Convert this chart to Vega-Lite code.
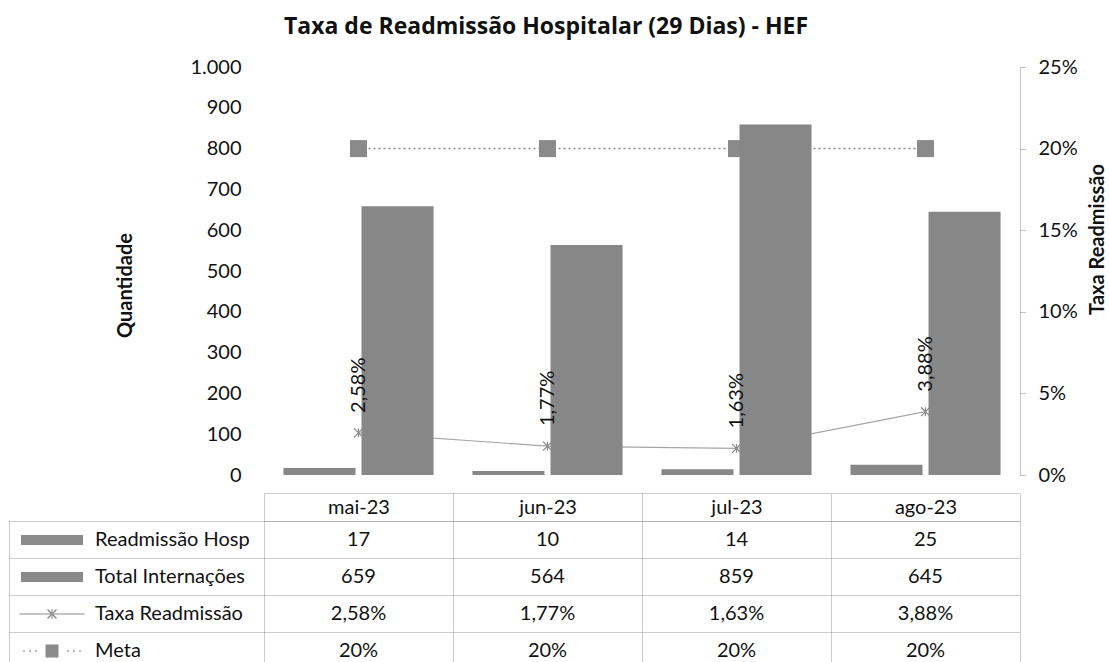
{
  "$schema": "https://vega.github.io/schema/vega-lite/v6.json",
  "padding": {"left": 8, "top": 16, "right": 5, "bottom": 0},
  "background": "white",
  "config": {
    "font": "Lato",
    "view": {"stroke": null},
    "locale": {"number": {"decimal": ",", "thousands": ".", "grouping": [3], "currency": ["R$", ""]}},
    "axis": {"labelFont": "Lato", "titleFont": "Lato", "labelColor": "#111", "titleColor": "#111"}
  },
  "datasets": {
    "dados": [
      {"mes": "mai-23", "readm": 17, "total": 659, "taxa": 0.0258, "meta": 0.2},
      {"mes": "jun-23", "readm": 10, "total": 564, "taxa": 0.0177, "meta": 0.2},
      {"mes": "jul-23", "readm": 14, "total": 859, "taxa": 0.0163, "meta": 0.2},
      {"mes": "ago-23", "readm": 25, "total": 645, "taxa": 0.0388, "meta": 0.2}
    ],
    "series": [
      {"serie": "Readmissão Hosp"},
      {"serie": "Total Internações"},
      {"serie": "Taxa Readmissão"},
      {"serie": "Meta"}
    ]
  },
  "bounds": "flush",
  "spacing": 46,
  "vconcat": [
    {
      "width": 756,
      "height": 408,
      "title": {"text": "Taxa de Readmissão Hospitalar (29 Dias) - HEF", "fontSize": 23, "fontWeight": "bold", "font": "Open Sans", "color": "#111", "anchor": "middle", "dx": -96, "offset": 18},
      "data": {"name": "dados"},
      "encoding": {
        "x": {"field": "mes", "type": "nominal", "sort": null, "axis": null, "scale": {"type": "band", "paddingInner": 0.206, "paddingOuter": 0.103}}
      },
      "layer": [
        {
          "mark": {"type": "line", "color": "#8a8a8a", "strokeWidth": 1.5, "strokeDash": [2, 3]},
          "encoding": {
            "y": {"field": "meta", "type": "quantitative", "scale": {"domain": [0, 0.25]},
              "axis": {"orient": "right", "values": [0, 0.05, 0.1, 0.15, 0.2, 0.25], "format": ".0%", "title": "Taxa Readmissão", "titleFontSize": 20, "titleFontWeight": "bold", "titleAngle": 270, "titleX": 77, "titleY": 172, "titleBaseline": "middle", "titleAlign": "center", "labelFontSize": 20, "labelPadding": 12, "tickSize": 6, "tickColor": "#888", "tickDash": [1, 1], "domainColor": "#888", "domainDash": [1, 1], "grid": false}}
          }
        },
        {
          "mark": {"type": "point", "shape": "square", "filled": true, "size": 290, "color": "#8a8a8a", "opacity": 1},
          "encoding": {"y": {"field": "meta", "type": "quantitative", "scale": {"domain": [0, 0.25]}, "axis": null}}
        },
        {
          "mark": {"type": "line", "color": "#a6a6a6", "strokeWidth": 1.2},
          "encoding": {"y": {"field": "taxa", "type": "quantitative", "scale": {"domain": [0, 0.25]}, "axis": null}}
        },
        {
          "mark": {"type": "point", "shape": "M-1,-1L1,1M-1,1L1,-1M0,-1L0,1", "filled": false, "size": 80, "color": "#888", "strokeWidth": 1.2, "opacity": 1},
          "encoding": {"y": {"field": "taxa", "type": "quantitative", "scale": {"domain": [0, 0.25]}, "axis": null}}
        },
        {
          "transform": [{"fold": ["readm", "total"], "as": ["serie", "valor"]}],
          "mark": {"type": "bar", "color": "#878787"},
          "encoding": {
            "xOffset": {"field": "serie", "type": "nominal", "scale": {"paddingInner": 0.077}},
            "y": {"field": "valor", "type": "quantitative", "scale": {"domain": [0, 1000]},
              "axis": {"orient": "left", "values": [0, 100, 200, 300, 400, 500, 600, 700, 800, 900, 1000], "format": ",d", "title": "Quantidade", "titleFontSize": 20, "titleFontWeight": "bold", "titleAngle": 270, "titleX": -139, "titleY": 218, "titleBaseline": "middle", "titleAlign": "center", "labelFontSize": 20, "labelPadding": 23, "ticks": false, "domain": false, "grid": false}}
          }
        },
        {
          "mark": {"type": "text", "angle": 270, "align": "left", "baseline": "middle", "dx": 20, "fontSize": 20, "color": "#111"},
          "encoding": {
            "y": {"field": "taxa", "type": "quantitative", "scale": {"domain": [0, 0.25]}, "axis": null},
            "text": {"field": "taxa", "type": "quantitative", "format": ".2%"}
          }
        }
      ],
      "resolve": {"scale": {"y": "independent"}}
    },
    {
      "width": 756,
      "height": 148,
      "data": {"name": "dados"},
      "layer": [
        {
          "mark": {"type": "text", "fontSize": 20, "color": "#111"},
          "encoding": {
            "x": {"field": "mes", "type": "nominal", "sort": null, "scale": {"type": "band", "paddingInner": 0, "paddingOuter": 0},
              "axis": {"orient": "top", "title": null, "labelFontSize": 20, "labelPadding": -14, "labelBaseline": "middle", "labelAngle": 0, "ticks": true, "tickSize": 28, "tickBand": "extent", "tickColor": "#999", "tickDash": [1, 1], "grid": true, "gridColor": "#999", "gridDash": [1, 1], "domain": true, "domainColor": "#999", "domainDash": [1, 1]}},
            "y": {"datum": "Readmissão Hosp", "type": "nominal", "scale": {"type": "band", "domain": ["Readmissão Hosp", "Total Internações", "Taxa Readmissão", "Meta"], "paddingInner": 0, "paddingOuter": 0},
              "axis": {"orient": "left", "title": null, "labels": false, "ticks": true, "tickSize": 255, "tickBand": "extent", "tickColor": "#999", "tickDash": [1, 1], "grid": true, "gridColor": "#999", "gridDash": [1, 1], "domain": false}},
            "text": {"field": "readm", "type": "quantitative"}
          }
        },
        {
          "mark": {"type": "text", "fontSize": 20, "color": "#111"},
          "encoding": {
            "x": {"field": "mes", "type": "nominal", "sort": null,
              "axis": {"orient": "top", "offset": 28, "title": null, "labels": false, "ticks": false, "grid": false, "domain": true, "domainColor": "#999", "domainDash": [1, 1]}},
            "y": {"datum": "Total Internações", "type": "nominal",
              "axis": {"orient": "left", "offset": 255, "title": null, "labels": false, "ticks": false, "grid": false, "domain": true, "domainColor": "#999", "domainDash": [1, 1]}},
            "text": {"field": "total", "type": "quantitative"}
          }
        },
        {
          "mark": {"type": "text", "fontSize": 20, "color": "#111"},
          "encoding": {
            "x": {"field": "mes", "type": "nominal", "sort": null, "axis": null},
            "y": {"datum": "Taxa Readmissão", "type": "nominal", "axis": null},
            "text": {"field": "taxa", "type": "quantitative", "format": ".2%"}
          }
        },
        {
          "mark": {"type": "text", "fontSize": 20, "color": "#111"},
          "encoding": {
            "x": {"field": "mes", "type": "nominal", "sort": null, "axis": null},
            "y": {"datum": "Meta", "type": "nominal", "axis": null},
            "text": {"field": "meta", "type": "quantitative", "format": ".0%"}
          }
        },
        {
          "data": {"name": "series"},
          "mark": {"type": "point", "filled": true, "color": "#8a8a8a", "opacity": 0},
          "encoding": {
            "y": {"field": "serie", "type": "nominal", "axis": null},
            "shape": {"field": "serie", "type": "nominal",
              "scale": {"domain": ["Readmissão Hosp", "Total Internações", "Taxa Readmissão", "Meta"],
                "range": [
                  "M-6.2,-1H6.2V1H-6.2Z",
                  "M-6.2,-1H6.2V1H-6.2Z",
                  "M-6.5,-0.1H6.5V0.1H-6.5Z M-1,-0.8L-0.8,-1L1,0.8L0.8,1Z M1,-0.8L0.8,-1L-1,0.8L-0.8,1Z M-0.1,-1H0.1V1H-0.1Z",
                  "M-1.3,-1.3H1.3V1.3H-1.3Z M-5.75,-0.15h0.3v0.3h-0.3Z M-4.55,-0.15h0.3v0.3h-0.3Z M-3.35,-0.15h0.3v0.3h-0.3Z M3.05,-0.15h0.3v0.3h-0.3Z M4.25,-0.15h0.3v0.3h-0.3Z M5.45,-0.15h0.3v0.3h-0.3Z"
                ]},
              "legend": {"orient": "none", "legendX": -222, "legendY": 463, "title": null, "direction": "vertical", "rowPadding": 17, "padding": 0, "labelFontSize": 20, "labelFont": "Lato", "labelColor": "#111", "labelOffset": 33, "symbolSize": 100, "symbolFillColor": "#8a8a8a", "symbolStrokeColor": "#8a8a8a", "symbolStrokeWidth": 0, "symbolOpacity": 1, "labelLimit": 300}
            }
          }
        }
      ],
      "resolve": {"axis": {"x": "independent", "y": "independent"}}
    }
  ]
}
